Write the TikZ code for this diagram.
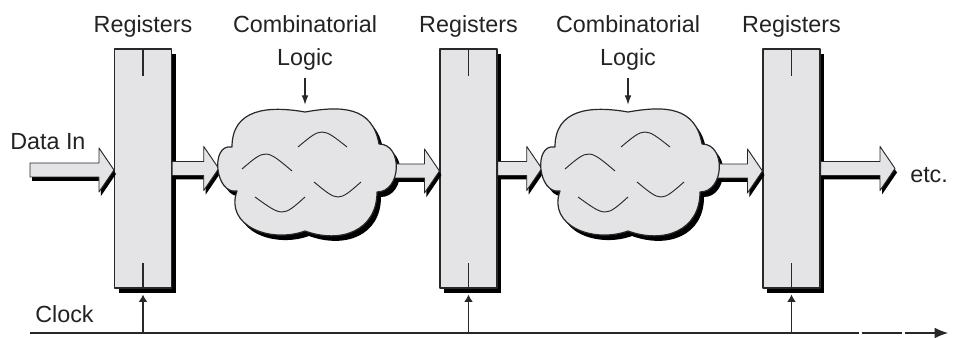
\documentclass[tikz,border=0pt]{standalone}
\usepackage{fontspec}
\setmainfont{Liberation Sans}
\usetikzlibrary{calc,arrows.meta,shadows}

\definecolor{regfill}{RGB}{228,228,230}
\definecolor{inkline}{RGB}{40,40,40}
\definecolor{inktext}{RGB}{35,35,35}

\tikzset{
  lbl/.style={font=\fontsize{17.5}{21}\selectfont, text=inktext, inner sep=0pt, anchor=base},
  register/.style={draw=inkline, line width=0.8pt, fill=regfill,
    minimum width=42.75pt, minimum height=179.25pt, inner sep=0pt,
    drop shadow={shadow xshift=3pt, shadow yshift=-4pt, fill=black, opacity=1}},
  cloudframe/.style={minimum width=129pt, minimum height=94.5pt, inner sep=0pt},
  cloudbody/.style={draw=inkline, line width=0.9pt, fill=regfill},
  cloudshade/.style={fill=black},
  arcline/.style={draw=inkline, line width=0.7pt},
  tick/.style={draw=inkline, line width=0.8pt},
  wire/.style={draw=inkline, line width=0.8pt},
  fatbody/.style={draw=inkline, line width=0.7pt, fill=regfill},
  fatshade/.style={fill=black}
}

% outline of a puffy cloud, centred on the origin
\newcommand{\cloudpath}{(0,59) to[out=170,in=90,looseness=1.2] (-73,24)
  to[out=170,in=190,looseness=1.3] (-68,-20)
  to[out=250,in=200,looseness=1.2] (0,-60)
  to[out=-20,in=270,looseness=1.2] (72,-21)
  to[out=0,in=0,looseness=1.3] (74,27)
  to[out=100,in=10,looseness=1.2] (0,59) -- cycle}

% broad outlined arrow from #1 to the x position of #2, with a drop shadow
\newcommand{\fatshape}[2]{($(fa-s)+(#1,#2)+(0,7)$) -- ($(fa-e)+(#1,#2)+(-15,7)$)
  -- ($(fa-e)+(#1,#2)+(-15,22)$) -- ($(fa-e)+(#1,#2)$)
  -- ($(fa-e)+(#1,#2)+(-15,-22)$) -- ($(fa-e)+(#1,#2)+(-15,-7)$)
  -- ($(fa-s)+(#1,#2)+(0,-7)$) -- cycle}
\newcommand{\fatarrow}[2]{%
  \coordinate (fa-s) at (#1);
  \coordinate (fa-e) at (#1 -| #2);
  \fill[fatshade] \fatshape{2}{-4};
  \path[fatbody] \fatshape{0}{0};
}

\begin{document}
\begin{tikzpicture}[x=0.75pt, y=0.75pt, line join=round]
\useasboundingbox (0,0) rectangle (955,338);

% register columns
\node[register] (reg1) at (143,169.5) {};
\node[register] (reg2) at (468.5,169.5) {};
\node[register] (reg3) at (791.5,169.5) {};
\foreach \i in {1,2,3}{
  \draw[tick] (reg\i.north) -- ++(0,-28);
  \draw[tick] (reg\i.south) -- ++(0,26);
}

% clock line and clock inputs
\coordinate (clkL) at (30,5);
\coordinate (gapA) at (859,5);
\coordinate (gapB) at (861.5,5);
\coordinate (gapC) at (902,5);
\coordinate (gapD) at (904.5,5);
\coordinate (clkR) at (948,5);
\draw[wire] (clkL) -- (gapA);
\draw[wire] (gapB) -- (gapC);
\draw[wire, -{Latex[length=10pt,width=8pt]}] (gapD) -- (clkR);
\foreach \i in {1,2,3}
  \draw[wire, -{Latex[length=5.5pt,width=6.5pt]}] (reg\i.south |- clkL) -- ([yshift=-4.5pt]reg\i.south);

% combinatorial logic clouds: frames and shadows
\node[cloudframe] (cloud1) at (305,167) {};
\node[cloudframe] (cloud2) at (628,167) {};
\fill[cloudshade, shift={(cloud1)}, xshift=3pt, yshift=-3.75pt] \cloudpath;
\fill[cloudshade, shift={(cloud2)}, xshift=3pt, yshift=-3.75pt] \cloudpath;

% data path
\coordinate (datastart) at (30,168);
\coordinate (etcend) at (895,169.5);
\fatarrow{datastart}{reg1.west}
\fatarrow{reg1.east}{cloud1.west}
\fatarrow{cloud1.center}{reg2.west}
\fatarrow{reg2.east}{cloud2.west}
\fatarrow{cloud2.center}{reg3.west}
\fatarrow{reg3.east}{etcend}

% cloud bodies with their inner strokes
\foreach \c in {cloud1,cloud2}{
  \path[cloudbody, shift={(\c)}] \cloudpath;
  \begin{scope}[shift={(\c)}]
    \draw[arcline] (-7,24) .. controls (16.8,44) .. (42,24);
    \draw[arcline] (-63,2) .. controls (-39.3,22.3) .. (-13,0);
    \draw[arcline] (-50,-26) .. controls (-22.3,-46) .. (0,-26);
    \draw[arcline] (9,-11) .. controls (33.2,-31) .. (56,-11);
  \end{scope}
}

% labels
\coordinate (toprow) at (0,305);
\coordinate (secondrow) at (0,272);
\node[lbl] (lreg1) at (reg1.north |- toprow) {Registers};
\node[lbl] (lreg2) at (reg2.north |- toprow) {Registers};
\node[lbl] (lreg3) at (reg3.north |- toprow) {Registers};
\node[lbl] (comb1) at (cloud1.north |- toprow) {Combinatorial};
\node[lbl] (comb2) at (cloud2.north |- toprow) {Combinatorial};
\node[lbl] (logic1) at (cloud1.north |- secondrow) {Logic};
\node[lbl] (logic2) at (cloud2.north |- secondrow) {Logic};
\draw[wire, -{Latex[length=7pt,width=5pt]}] ([yshift=-5.3pt]logic1.south) -- ([yshift=2.25pt]cloud1.north);
\draw[wire, -{Latex[length=7pt,width=5pt]}] ([yshift=-5.3pt]logic2.south) -- ([yshift=2.25pt]cloud2.north);

\node[lbl, anchor=base west] (datain) at (10,188) {Data In};
\node[lbl, anchor=base west] (etc) at (910,155) {etc.};
\node[lbl, anchor=base west] (clock) at (35,15) {Clock};
\end{tikzpicture}
\end{document}
